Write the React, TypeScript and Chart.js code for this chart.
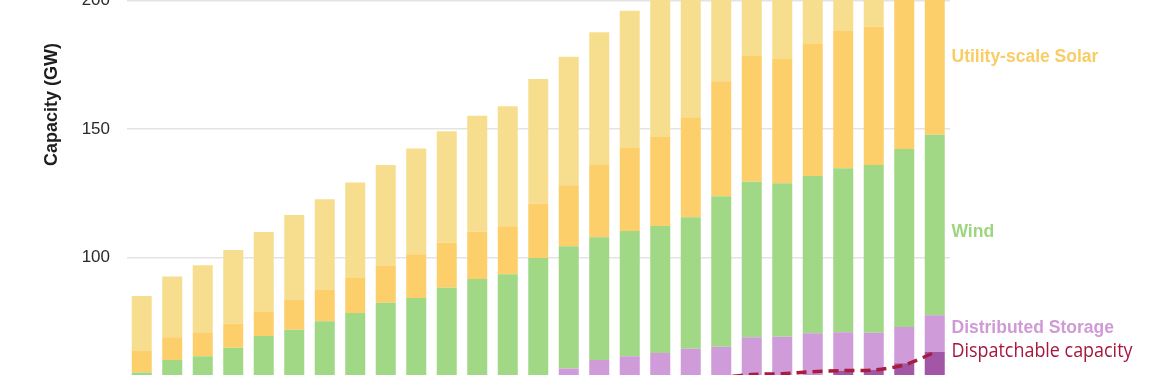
import React, { useEffect, useRef } from "react";
import { Chart, registerables } from "chart.js";

Chart.register(...registerables);

// Financial years (one bar each)
const years = [
  "2023-24", "2024-25", "2025-26", "2026-27", "2027-28", "2028-29", "2029-30",
  "2030-31", "2031-32", "2032-33", "2033-34", "2034-35", "2035-36", "2036-37",
  "2037-38", "2038-39", "2039-40", "2040-41", "2041-42", "2042-43", "2043-44",
  "2044-45", "2045-46", "2046-47", "2047-48", "2048-49", "2049-50",
];

// Stacked capacity (GW), bottom to top
const dispatchableBase = [
  44.0, 44.5, 44.0, 43.5, 43.0, 43.5, 44.0, 44.5, 45.5, 46.5, 47.5, 48.5, 49.0, 49.5,
  50.5, 51.5, 52.3, 52.8, 53.2, 53.5, 53.8, 54.0, 54.6, 56.1, 56.3, 59.0, 63.3,
];
const distributedStorage = [
  0.3, 0.4, 0.5, 0.7, 0.9, 1.1, 1.4, 1.7, 2.0, 2.4, 2.8, 3.3, 3.8, 4.0,
  6.4, 8.7, 9.4, 10.1, 11.4, 11.9, 15.3, 15.3, 16.0, 14.9, 14.5, 14.0, 14.3,
];
const wind = [
  11.1, 15.3, 17.2, 20.8, 25.6, 27.4, 29.9, 32.3, 35.0, 35.4, 38.0, 39.9, 40.7, 46.4,
  47.5, 47.7, 48.6, 49.4, 51.1, 58.4, 60.4, 59.6, 61.1, 63.7, 65.2, 69.2, 70.1,
];
const utilitySolar = [
  8.3, 8.9, 9.0, 9.3, 9.4, 11.5, 12.1, 13.6, 14.2, 17.0, 17.6, 18.4, 18.7, 21.1,
  23.7, 28.1, 32.3, 34.6, 38.8, 44.7, 48.8, 48.3, 51.6, 53.4, 53.8, 63.8, 66.3,
];
const distributedPV = [
  21.4, 23.6, 26.3, 28.7, 31.1, 33.1, 35.3, 37.1, 39.3, 41.1, 43.2, 45.0, 46.6, 48.4,
  50.0, 51.6, 53.3, 55.5, 57.0, 58.5, 60.0, 61.5, 63.0, 64.5, 66.0, 67.5, 69.0,
];
// Dashed line
const dispatchableCapacity = [
  44.0, 44.5, 44.0, 43.5, 43.0, 43.5, 44.0, 44.5, 45.5, 46.5, 47.5, 48.5, 49.0, 49.5,
  50.5, 51.5, 52.3, 52.8, 53.2, 53.5, 54.6, 54.9, 55.7, 56.1, 56.3, 58.3, 63.2,
];

const yTickValues = [50, 100, 150, 200, 250];

// Right-hand series labels (text, anchor value in GW, colour, font)
const seriesLabelText = ["Utility-scale Solar", "Wind", "Distributed Storage", "Dispatchable capacity"];
const seriesLabelAt = [177.8, 109.8, 72.4, 63.7];
const seriesLabelColor = ["#f9cc66", "#9dd67e", "#cf9ad6", "#a4173f"];
const seriesLabelFont = [
  "bold 17.5px 'Liberation Sans', Arial, sans-serif",
  "bold 17.5px 'Liberation Sans', Arial, sans-serif",
  "bold 17.5px 'Liberation Sans', Arial, sans-serif",
  "20px 'Open Sans', sans-serif",
];
const seriesLabelMaxWidth = [0, 0, 0, 181];

const labelPlugin = {
  id: "seriesLabels",
  afterDatasetsDraw(chart: any) {
    const { ctx, chartArea, scales } = chart;
    ctx.save();
    ctx.textBaseline = "middle";
    ctx.textAlign = "left";
    seriesLabelText.forEach((t, i) => {
      ctx.font = seriesLabelFont[i];
      ctx.fillStyle = seriesLabelColor[i];
      const y = scales.y.getPixelForValue(seriesLabelAt[i]);
      const x = chartArea.right + 1.5;
      if (seriesLabelMaxWidth[i] > 0) ctx.fillText(t, x, y, seriesLabelMaxWidth[i]);
      else ctx.fillText(t, x, y);
    });
    ctx.restore();
  },
};

export default function App() {
  const ref = useRef<HTMLCanvasElement>(null);

  useEffect(() => {
    if (!ref.current) return;
    const barCommon = { stack: "cap", order: 1, categoryPercentage: 1, barPercentage: 0.656, borderWidth: 0 };
    const chart = new Chart(ref.current, {
      type: "bar",
      data: {
        labels: years,
        datasets: [
          {
            type: "line",
            label: "Dispatchable capacity",
            data: dispatchableCapacity,
            borderColor: "#a81c3e",
            borderWidth: 3.5,
            borderDash: [10, 6],
            pointRadius: 0,
            tension: 0.3,
            fill: false,
            stack: "line",
            order: 0,
          } as any,
          { ...barCommon, label: "Utility Storage", data: dispatchableBase, backgroundColor: "#a156a6" },
          { ...barCommon, label: "Distributed Storage", data: distributedStorage, backgroundColor: "#cf9bd8" },
          { ...barCommon, label: "Wind", data: wind, backgroundColor: "#a0d886" },
          { ...barCommon, label: "Utility-scale Solar", data: utilitySolar, backgroundColor: "#fdcf6a" },
          { ...barCommon, label: "Distributed PV", data: distributedPV, backgroundColor: "#f7de8e" },
        ],
      },
      options: {
        animation: false,
        responsive: true,
        maintainAspectRatio: false,
        layout: { padding: { top: 20, bottom: 20, left: 0, right: 225 } },
        plugins: { legend: { display: false }, tooltip: { enabled: false } },
        scales: {
          x: { display: false, stacked: true },
          y: {
            stacked: true,
            min: 50,
            max: 269,
            afterBuildTicks: (s: any) => {
              s.ticks = yTickValues.map((v) => ({ value: v }));
            },
            afterFit: (s: any) => {
              s.width = 126.5;
            },
            border: { display: false },
            grid: { color: "#e4e4e4", lineWidth: 1.5, drawTicks: false },
            ticks: {
              padding: 16.5,
              color: "#2a2a2a",
              font: { family: "'Liberation Sans', Arial, sans-serif", size: 17 },
            },
            title: {
              display: true,
              text: "Capacity (GW)",
              color: "#1e1e1e",
              padding: { top: 41, bottom: 0 },
              font: { family: "'Liberation Sans', Arial, sans-serif", size: 18, weight: "bold" },
            },
          },
        },
      },
      plugins: [labelPlugin],
    });
    return () => chart.destroy();
  }, []);

  return (
    <div style={{ position: "fixed", left: 0, top: 0, width: 1175, height: 375, overflow: "hidden", background: "#fff" }}>
      <div style={{ position: "absolute", left: 0, top: -204.5, width: 1175, height: 617 }}>
        <canvas ref={ref} />
      </div>
    </div>
  );
}
